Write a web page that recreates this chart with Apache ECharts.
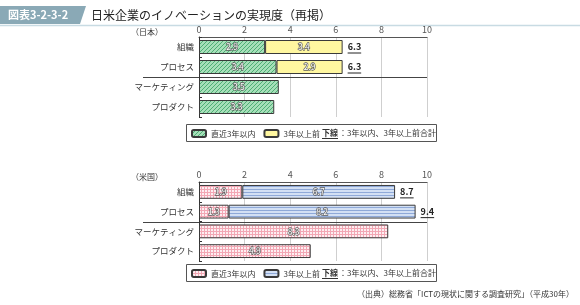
<!DOCTYPE html>
<html><head><meta charset="utf-8">
<script src="https://cdn.jsdelivr.net/npm/echarts@6/dist/echarts.min.js"></script>
<style>html,body{margin:0;padding:0;background:#fff}#c{width:580px;height:305px}</style>
</head><body><div id="c"></div>
<script>
// ---- data ----
var categories = ['組織', 'プロセス', 'マーケティング', 'プロダクト'];
var jpRecent = [2.9, 3.4, 3.5, 3.3];
var jpEarlier = [3.4, 2.9, null, null];
var jpTotal = [6.3, 6.3, null, null];
var usRecent = [1.9, 1.3, 8.3, 4.9];
var usEarlier = [6.7, 8.2, null, null];
var usTotal = [8.7, 9.4, null, null];
var xTicks = [0, 2, 4, 6, 8, 10];
var legendRecent = '直近3年以内';
var legendEarlier = '3年以上前';

var FONT = '"Noto Sans CJK JP", "Noto Sans", sans-serif';

function pattern(w, h, bg, draw) {
  var c = document.createElement('canvas'); c.width = w; c.height = h;
  var g = c.getContext('2d'); g.fillStyle = bg; g.fillRect(0, 0, w, h); draw(g);
  return { image: c, repeat: 'repeat' };
}
var greenPat = pattern(4, 4, '#a6dfb9', function (g) {
  g.fillStyle = '#4fae75';
  for (var i = 0; i < 4; i++) { g.fillRect(i, 3 - i, 1, 1); }
});
var pinkPat = pattern(3, 3, '#fdeef1', function (g) {
  g.fillStyle = '#f2a7b4'; g.fillRect(0, 0, 3, 1); g.fillRect(0, 0, 1, 3);
});
var bluePat = pattern(2, 3, '#d3e0f4', function (g) {
  g.fillStyle = '#8fa9d8'; g.fillRect(0, 0, 2, 1);
});

var measureCtx = document.createElement('canvas').getContext('2d');

function totalsData(a, b, t) {
  var out = [];
  for (var i = 0; i < t.length; i++) {
    if (t[i] != null) out.push([(a[i] || 0) + (b[i] || 0), i, t[i]]);
  }
  return out;
}
function renderTotal(params, api) {
  var p = api.coord([api.value(0), api.value(1)]);
  var txt = api.value(2).toFixed(1);
  measureCtx.font = 'bold 9px ' + FONT;
  var w = measureCtx.measureText(txt).width;
  var x = p[0] + 5;
  return {
    type: 'group',
    children: [
      { type: 'text', style: { text: txt, x: x, y: p[1], fill: '#222', font: 'bold 9px ' + FONT, verticalAlign: 'middle', align: 'left' } },
      { type: 'line', shape: { x1: x, y1: p[1] + 6, x2: x + w, y2: p[1] + 6 }, style: { stroke: '#222', lineWidth: 1 } }
    ]
  };
}

var innerLabel = { show: true, position: 'inside', fontSize: 8.5, fontFamily: FONT, color: '#fff', textBorderColor: '#5a5a5a', textBorderWidth: 1.3,
  formatter: function (p) { return p.value == null ? '' : p.value.toFixed(1); } };

var grids = [
  { left: 199, right: 153, top: 37, height: 80 },
  { left: 199, right: 153, top: 182, height: 79 }
];
function xAx(i) {
  return { gridIndex: i, type: 'value', position: 'top', min: xTicks[0], max: xTicks[xTicks.length - 1], interval: 2,
    axisLine: { show: true, onZero: false, lineStyle: { color: '#555', width: 1 } },
    axisTick: { show: false },
    axisLabel: { fontSize: 9, color: '#555', fontFamily: FONT, margin: 3 },
    splitLine: { show: true, lineStyle: { color: '#cfcfcf', width: 1 } } };
}
function yAx(i) {
  return { gridIndex: i, type: 'category', data: categories, inverse: true,
    axisLine: { show: true, lineStyle: { color: '#333', width: 1 } },
    axisTick: { show: true, inside: true, length: 3, lineStyle: { color: '#333' } },
    axisLabel: { fontSize: 8.5, color: '#333', fontFamily: FONT, margin: 5 } };
}

function bar(name, xi, data, color, stack) {
  return { type: 'bar', name: name, xAxisIndex: xi, yAxisIndex: xi, data: data, stack: stack, barWidth: '70%',
    label: innerLabel, itemStyle: { color: color, borderColor: '#3a3a3a', borderWidth: 1 } };
}

var nameMap = { jpA: legendRecent, jpB: legendEarlier, usA: legendRecent, usB: legendEarlier };
function legendAt(names, top) {
  return { data: names, left: 191, top: top, itemWidth: 14, itemHeight: 7, itemGap: 8, padding: 0,
    textStyle: { fontSize: 8, color: '#333', fontFamily: FONT }, formatter: function (n) { return nameMap[n]; } };
}

var option = {
  animation: false,
  textStyle: { fontFamily: FONT },
  grid: grids,
  xAxis: [xAx(0), xAx(1)],
  yAxis: [yAx(0), yAx(1)],
  legend: [legendAt(['jpA', 'jpB'], 129), legendAt(['usA', 'usB'], 269)],
  series: [
    bar('jpA', 0, jpRecent, greenPat, 'jp'),
    bar('jpB', 0, jpEarlier, '#fff7a0', 'jp'),
    bar('usA', 1, usRecent, pinkPat, 'us'),
    bar('usB', 1, usEarlier, bluePat, 'us'),
    { type: 'custom', xAxisIndex: 0, yAxisIndex: 0, data: totalsData(jpRecent, jpEarlier, jpTotal), renderItem: renderTotal, z: 5 },
    { type: 'custom', xAxisIndex: 1, yAxisIndex: 1, data: totalsData(usRecent, usEarlier, usTotal), renderItem: renderTotal, z: 5 }
  ]
};

var chart = echarts.init(document.getElementById('c'), null, { renderer: 'canvas' });
chart.setOption(option);

function legendExtra(top) {
  return [
    { type: 'rect', shape: { x: 186.5, y: top - 4.5, width: 250, height: 17 }, style: { fill: 'none', stroke: '#555', lineWidth: 1 } },
    { type: 'text', x: 322, y: top + 4, style: { text: '下線', font: 'bold 8px ' + FONT, fill: '#333', verticalAlign: 'middle' } },
    { type: 'line', shape: { x1: 322, y1: top + 9.5, x2: 338, y2: top + 9.5 }, style: { stroke: '#333', lineWidth: 1 } },
    { type: 'text', x: 339, y: top + 4, style: { text: '：3年以内、3年以上前合計', font: '8px ' + FONT, fill: '#333', verticalAlign: 'middle' } }
  ];
}
function sepLine(gi) {
  var a = chart.convertToPixel({ gridIndex: gi }, [0, 1]);
  var b = chart.convertToPixel({ gridIndex: gi }, [0, 2]);
  var right = chart.convertToPixel({ gridIndex: gi }, [10, 0])[0];
  var y = Math.round((a[1] + b[1]) / 2) + 0.5;
  return { type: 'line', shape: { x1: 143, y1: y, x2: right, y2: y }, style: { stroke: '#444', lineWidth: 1 } };
}

var graphics = [
  { type: 'polygon', shape: { points: [[0, 6], [86, 6], [80, 24], [0, 24]] }, style: { fill: '#8aa9b6' } },
  { type: 'text', x: 8, y: 15, style: { text: '図表3-2-3-2', font: 'bold 11px ' + FONT, fill: '#fff', verticalAlign: 'middle' } },
  { type: 'line', shape: { x1: 0, y1: 25.5, x2: 580, y2: 25.5 }, style: { stroke: '#c8dbe3', lineWidth: 1.5 } },
  { type: 'text', x: 91, y: 15, style: { text: '日米企業のイノベーションの実現度（再掲）', font: '12px ' + FONT, fill: '#222', verticalAlign: 'middle' } },
  { type: 'text', x: 163, y: 32, style: { text: '（日本）', font: '8px ' + FONT, fill: '#333', verticalAlign: 'middle', align: 'right' } },
  { type: 'text', x: 163, y: 177, style: { text: '（米国）', font: '8px ' + FONT, fill: '#333', verticalAlign: 'middle', align: 'right' } },
  { type: 'text', x: 574, y: 294, style: { text: '（出典）総務省「ICTの現状に関する調査研究」（平成30年）', font: '8px ' + FONT, fill: '#333', verticalAlign: 'middle', align: 'right' } },
  sepLine(0), sepLine(1)
].concat(legendExtra(129), legendExtra(269));

chart.setOption({ graphic: graphics });
</script></body></html>
